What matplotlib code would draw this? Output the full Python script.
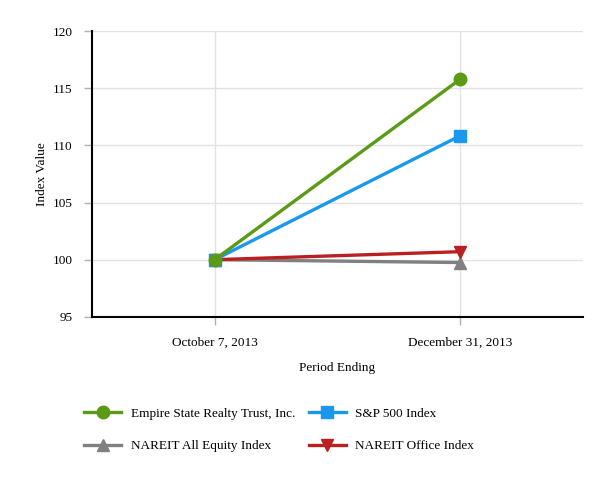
import matplotlib.pyplot as plt

periods = ["October 7, 2013", "December 31, 2013"]
empire = [100.0, 115.8]
sp500 = [100.0, 110.85]
nareit_all = [100.0, 99.75]
nareit_office = [100.0, 100.7]

plt.rcParams['font.family'] = ['Liberation Serif', 'DejaVu Serif']
plt.rcParams['font.size'] = 9.5

fig = plt.figure(figsize=(6.13, 4.8), dpi=100)
ax = fig.add_axes([0.150, 0.340, 0.801, 0.595])

x = range(len(periods))
h1, = ax.plot(x, empire, color='#5a9a14', lw=2.4, marker='o', ms=9, label='Empire State Realty Trust, Inc.', zorder=4)
h2, = ax.plot(x, sp500, color='#1a98f0', lw=2.4, marker='s', ms=9, label='S&P 500 Index', zorder=3)
h3, = ax.plot(x, nareit_all, color='#808080', lw=2.4, marker='^', ms=9, label='NAREIT All Equity Index', zorder=2)
h4, = ax.plot(x, nareit_office, color='#bb2020', lw=2.4, marker='v', ms=9, label='NAREIT Office Index', zorder=2)

ax.set_xlim(-0.5, 1.5)
ax.set_ylim(95, 120)
ax.set_yticks([95, 100, 105, 110, 115, 120])
ax.set_xticks(list(x))
ax.set_xticklabels(periods)
ax.grid(True, color='#e2e2e2', lw=1)
ax.set_axisbelow(True)
for s in ['top', 'right']:
    ax.spines[s].set_visible(False)
for s in ['left', 'bottom']:
    ax.spines[s].set_linewidth(1.5)
    ax.spines[s].set_color('black')
ax.tick_params(axis='both', color='#b0b0b0', length=6, width=1, pad=8)
ax.set_xlabel('Period Ending', labelpad=10)
ax.set_ylabel('Index Value', labelpad=3)

fig.legend([h1, h3, h2, h4],
           [h.get_label() for h in [h1, h3, h2, h4]],
           ncol=2, frameon=False, loc='upper left', bbox_to_anchor=(0.118, 0.175),
           handlelength=2.8, handletextpad=0.75, columnspacing=1.0,
           labelspacing=1.5, markerscale=1.0)

fig.savefig('out.png', dpi=100)
